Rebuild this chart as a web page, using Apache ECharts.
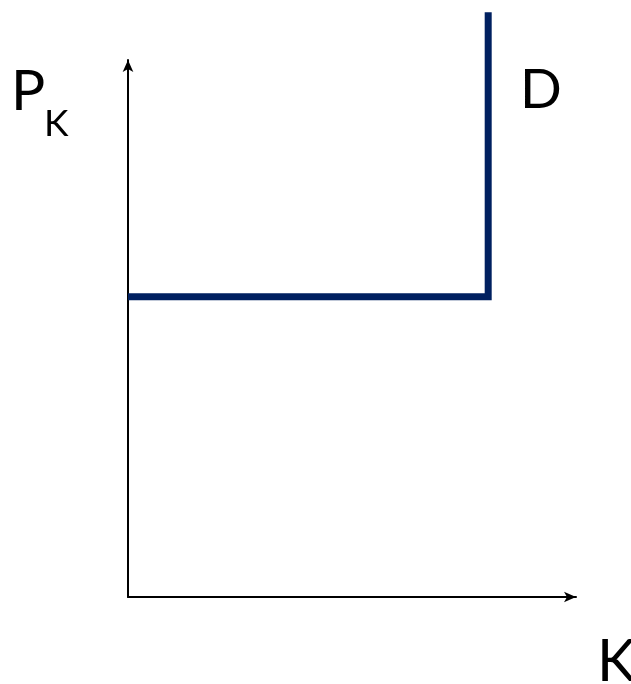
<!DOCTYPE html>
<html>
<head>
<meta charset="utf-8">
<script src="https://cdn.jsdelivr.net/npm/echarts@6/dist/echarts.min.js"></script>
<style>
  html, body { margin: 0; padding: 0; background: #fff; }
  #chart { width: 631px; height: 684px; }
</style>
</head>
<body>
<div id="chart"></div>
<script>
// demand curve: flat at the price level, then vertical at the capacity
var axisRange = [0, 10];
var priceLevel = 5.59;
var capacity = 8.04;
var curveTop = 10.89;
var demandPoints = [
  [axisRange[0], priceLevel],
  [capacity, priceLevel],
  [capacity, curveTop]
];
var labels = { price: 'P', priceSub: 'K', curve: 'D', quantity: 'K' };

var font = 'Lato, "Open Sans", sans-serif';
var myChart = echarts.init(document.getElementById('chart'));

var hiddenAxis = function () {
  return {
    type: 'value',
    min: axisRange[0],
    max: axisRange[1],
    axisLabel: { show: false },
    axisTick: { show: false },
    splitLine: { show: false },
    axisLine: {
      show: true,
      symbol: ['none', 'arrow'],
      symbolSize: [8, 12],
      lineStyle: { color: '#000', width: 2 }
    }
  };
};

myChart.setOption({
  animation: false,
  grid: { left: 128, right: 55, top: 60, bottom: 87 },
  xAxis: hiddenAxis(),
  yAxis: hiddenAxis(),
  series: [{
    type: 'line',
    data: demandPoints,
    symbol: 'none',
    clip: false,
    lineStyle: { color: '#002060', width: 7, join: 'miter', cap: 'butt' }
  }],
  graphic: [
    { type: 'text', left: 11, top: 63, style: { text: labels.price, font: '57px ' + font, fill: '#000' } },
    { type: 'text', left: 44, top: 106, style: { text: labels.priceSub, font: '37px ' + font, fill: '#000' } },
    { type: 'text', left: 520, top: 63, style: { text: labels.curve, font: '55px ' + font, fill: '#000' } },
    { type: 'text', left: 597, top: 633, style: { text: labels.quantity, font: '58px ' + font, fill: '#000' } }
  ]
});
</script>
</body>
</html>
